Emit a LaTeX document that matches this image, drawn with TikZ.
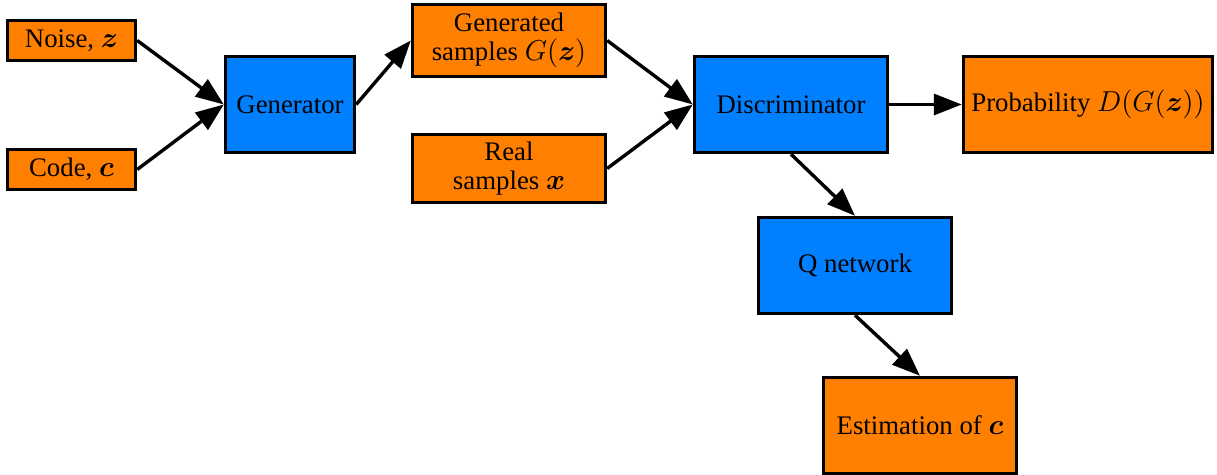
\documentclass[tikz,border=0pt]{standalone}
\usepackage{amsmath,bm}
\usepackage{fontspec}
\setmainfont{Liberation Serif}
\usetikzlibrary{arrows.meta}
\definecolor{boxorange}{HTML}{FF8000}
\definecolor{boxblue}{HTML}{0080FF}
\begin{document}
\begin{tikzpicture}[x=0.5pt,y=-0.5pt,
  box/.style={draw=black,line width=1.7pt,inner sep=0pt,align=center,
    font=\rmfamily\fontsize{13.4}{14.5}\selectfont},
  obox/.style={box,fill=boxorange},
  bbox/.style={box,fill=boxblue},
  arr/.style={line width=1.7pt,-{Triangle[length=14pt,width=10.5pt]}}]
\useasboundingbox (0,0) rectangle (1217,475);
\node[obox,minimum width=64pt,minimum height=20pt] (noise) at (71.5,40.5) {Noise, $\bm{z}$};
\node[obox,minimum width=64pt,minimum height=20pt] (code) at (71.5,169.5) {Code, $\bm{c}$};
\node[bbox,minimum width=64.5pt,minimum height=48pt] (gen) at (290,104.5) {Generator};
\node[obox,minimum width=96.5pt,minimum height=36pt] (gs) at (509,40.5) {Generated\\samples $G(\bm{z})$};
\node[obox,minimum width=96.5pt,minimum height=34pt] (real) at (509,168.5) {Real\\samples $\bm{x}$};
\node[bbox,minimum width=96.5pt,minimum height=48pt] (disc) at (791,104.5) {Discriminator};
\node[obox,minimum width=124.5pt,minimum height=48pt] (prob) at (1088,104.5) {Probability $D(G(\bm{z}))$};
\node[bbox,minimum width=96.5pt,minimum height=48pt] (q) at (855,265.5) {Q network};
\node[obox,minimum width=96.5pt,minimum height=48pt] (est) at (920,425.5) {Estimation of $\bm{c}$};
\draw[arr] (noise.east) -- (gen.west);
\draw[arr] (code.east) -- (gen.west);
\draw[arr] (gen.east) -- (gs.west);
\draw[arr] (gs.east) -- (disc.west);
\draw[arr] (real.east) -- (disc.west);
\draw[arr] (disc.east) -- (prob.west);
\draw[arr] (disc.south) -- (q.north);
\draw[arr] (q.south) -- (est.north);
\end{tikzpicture}
\end{document}
